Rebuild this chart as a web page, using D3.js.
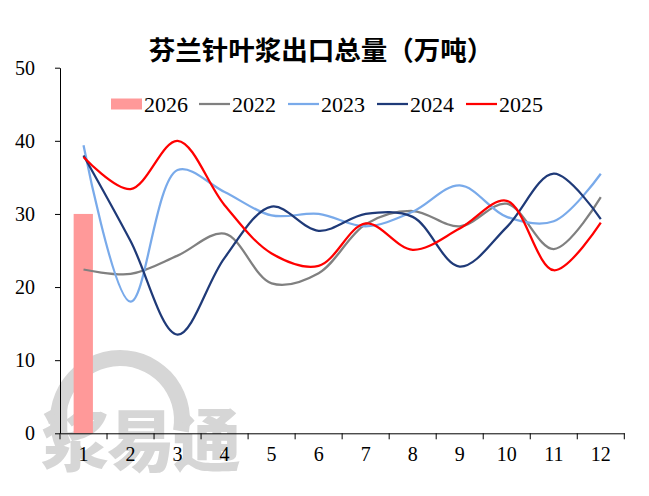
<!DOCTYPE html>
<html><head><meta charset="utf-8">
<script src="https://cdn.jsdelivr.net/npm/d3@7"></script>
<style>body{margin:0;background:#fff}svg{display:block}</style>
</head><body><svg id="c" width="649" height="496"></svg>
<script>
const title = "芬兰针叶浆出口总量（万吨）";
const months = ["1","2","3","4","5","6","7","8","9","10","11","12"];
const yTicks = [0,10,20,30,40,50];
const bar2026 = [30];
const s2022 = [22.4,21.8,24.3,27.3,20.5,21.9,28.6,30.4,28.3,31.4,25.2,32.3];
const s2023 = [39.4,18.0,36.0,33.0,29.8,30.0,28.3,30.3,33.9,29.6,29.0,35.5];
const s2024 = [38.0,26.3,13.5,24.0,31.0,27.7,30.0,29.6,22.8,28.2,35.5,29.3];
const s2025 = [37.8,33.4,40.0,31.2,24.6,22.9,28.7,25.1,28.0,31.8,22.3,28.8];
const lineSeries = [
  {name:"2022", values:s2022, color:"#808080"},
  {name:"2023", values:s2023, color:"#79aaea"},
  {name:"2024", values:s2024, color:"#1f3a78"},
  {name:"2025", values:s2025, color:"#ff0000"}
];

const svg = d3.select("#c");
const L = 60, R = 624.3, T = 67.7, B = 433.3;
const x = d3.scaleBand().domain(months).range([L,R]).padding(0);
const y = d3.scaleLinear().domain([0,50]).range([B,T]);

// watermark
const wm = svg.append("g").attr("fill","#d6d6d6");
wm.append("path")
  .attr("d", d3.arc().innerRadius(54).outerRadius(70).startAngle(-2.0).endAngle(1.75)())
  .attr("transform","translate(120,420)");
wm.append("text").attr("x",41).attr("y",466).attr("font-family","Noto Sans CJK SC")
  .attr("font-weight",900).attr("font-size",68).attr("textLength",200).text("浆易通");

// title
svg.append("text").attr("x",321).attr("y",60).attr("text-anchor","middle")
  .attr("font-family","Noto Sans CJK SC").attr("font-weight","bold").attr("font-size",26.5)
  .text(title);

// bar
svg.append("g").selectAll("rect").data(bar2026).enter().append("rect")
  .attr("x",(d,i)=>x(months[i]) + x.bandwidth()*0.29)
  .attr("width",x.bandwidth()*0.41)
  .attr("y",d=>y(d)).attr("height",d=>y(0)-y(d))
  .attr("fill","#ff9999");

// lines
const line = d3.line().x((d,i)=>x(months[i])+x.bandwidth()/2).y(d=>y(d)).curve(d3.curveCatmullRom.alpha(0.5));
svg.append("g").selectAll("path").data(lineSeries).enter().append("path")
  .attr("d",d=>line(d.values)).attr("fill","none").attr("stroke",d=>d.color)
  .attr("stroke-width",2.25);

// axes
const font = "'Liberation Serif','Times New Roman',serif";
const ya = svg.append("g").attr("transform",`translate(${L},0)`)
  .call(d3.axisLeft(y).tickValues(yTicks).tickSize(5).tickSizeOuter(0).tickPadding(20));
ya.selectAll("text").attr("font-family",font).attr("font-size",20).attr("fill","#000");
ya.selectAll("line,path").attr("stroke","#000");

const xa = svg.append("g").attr("transform",`translate(0,${B})`)
  .call(d3.axisBottom(x).tickSize(0).tickPadding(14));
xa.selectAll("text").attr("font-family",font).attr("font-size",20).attr("fill","#000");
xa.select("path").attr("stroke","#000");
xa.selectAll("line.bt").data(months.concat(["end"])).enter().append("line").attr("class","bt")
  .attr("x1",(d,i)=>L + i*x.bandwidth()).attr("x2",(d,i)=>L + i*x.bandwidth())
  .attr("y1",0).attr("y2",6).attr("stroke","#000");

// legend
const leg = svg.append("g").attr("font-family",font).attr("font-size",22);
const legItems = [{name:"2026",type:"bar",color:"#ff9999"}].concat(lineSeries.map(s=>({name:s.name,type:"line",color:s.color})));
const legX = [111,199,288,377,466];
legItems.forEach((d,i)=>{
  const g = leg.append("g").attr("transform",`translate(${legX[i]},104)`);
  if(d.type==="bar") g.append("rect").attr("x",0).attr("y",-5.5).attr("width",31).attr("height",11).attr("fill",d.color);
  else g.append("line").attr("x1",0).attr("x2",31).attr("y1",0).attr("y2",0).attr("stroke",d.color).attr("stroke-width",2.25);
  g.append("text").attr("x",33).attr("y",8).text(d.name);
});
</script></body></html>
